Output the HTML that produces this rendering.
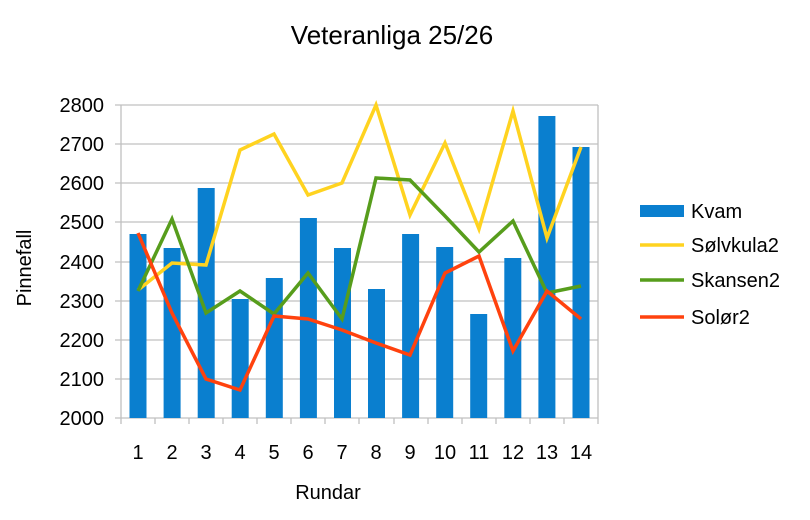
<!DOCTYPE html><html><head><style>body{margin:0;background:#fff}</style></head><body>
<svg width="810" height="515" xmlns="http://www.w3.org/2000/svg" font-family="Liberation Sans, Arial, sans-serif">
<rect width="810" height="515" fill="#fff"/>
<text x="392" y="44" font-size="26" text-anchor="middle" fill="#000">Veteranliga 25/26</text>
<g stroke="#c0c0c0" stroke-width="1.3">
<line x1="115" y1="105" x2="598" y2="105"/><line x1="115" y1="144" x2="598" y2="144"/><line x1="115" y1="183" x2="598" y2="183"/><line x1="115" y1="222" x2="598" y2="222"/><line x1="115" y1="262" x2="598" y2="262"/><line x1="115" y1="301" x2="598" y2="301"/><line x1="115" y1="340" x2="598" y2="340"/><line x1="115" y1="379" x2="598" y2="379"/><line x1="115" y1="418" x2="598" y2="418"/>
<line x1="121" y1="105" x2="121" y2="424"/><line x1="598" y1="105" x2="598" y2="424"/>
<line x1="155" y1="418" x2="155" y2="424"/><line x1="189" y1="418" x2="189" y2="424"/><line x1="223" y1="418" x2="223" y2="424"/><line x1="257" y1="418" x2="257" y2="424"/><line x1="291" y1="418" x2="291" y2="424"/><line x1="325" y1="418" x2="325" y2="424"/><line x1="359" y1="418" x2="359" y2="424"/><line x1="394" y1="418" x2="394" y2="424"/><line x1="428" y1="418" x2="428" y2="424"/><line x1="462" y1="418" x2="462" y2="424"/><line x1="496" y1="418" x2="496" y2="424"/><line x1="530" y1="418" x2="530" y2="424"/><line x1="564" y1="418" x2="564" y2="424"/>
</g>
<g fill="#0a7fcf">
<rect x="129.5" y="234" width="17" height="184"/><rect x="163.6" y="248" width="17" height="170"/><rect x="197.7" y="188" width="17" height="230"/><rect x="231.7" y="299" width="17" height="119"/><rect x="265.8" y="278" width="17" height="140"/><rect x="299.9" y="218" width="17" height="200"/><rect x="334" y="248" width="17" height="170"/><rect x="368" y="289" width="17" height="129"/><rect x="402.1" y="234" width="17" height="184"/><rect x="436.2" y="247" width="17" height="171"/><rect x="470.2" y="314" width="17" height="104"/><rect x="504.3" y="258" width="17" height="160"/><rect x="538.4" y="116" width="17" height="302"/><rect x="572.5" y="147" width="17" height="271"/>
</g>
<g fill="none" stroke-width="3.5" stroke-linejoin="miter">
<polyline stroke="#ffd320" points="138,290 172,263 206,265 240,150 274,134 308,195 342,183 376,105 410,215 445,143 479,229 513,111 547,238 581,147"/>
<polyline stroke="#579d1c" points="138,291 172,219 206,313 240,291 274,314 308,273 342,319 376,178 410,180 445,216 479,252 513,221 547,293 581,286"/>
<polyline stroke="#ff420e" points="138,233 172,313 206,379 240,390 274,316 308,319 342,330 376,343 410,355 445,273 479,256 513,351 547,291 581,319"/>
</g>
<g font-size="20" fill="#000" text-anchor="end">
<text x="104" y="112">2800</text><text x="104" y="151">2700</text><text x="104" y="190">2600</text><text x="104" y="229">2500</text><text x="104" y="269">2400</text><text x="104" y="308">2300</text><text x="104" y="347">2200</text><text x="104" y="386">2100</text><text x="104" y="425">2000</text>
</g>
<g font-size="20" fill="#000" text-anchor="middle">
<text x="138" y="459">1</text><text x="172" y="459">2</text><text x="206" y="459">3</text><text x="240" y="459">4</text><text x="274" y="459">5</text><text x="308" y="459">6</text><text x="342" y="459">7</text><text x="376" y="459">8</text><text x="410" y="459">9</text><text x="445" y="459">10</text><text x="479" y="459">11</text><text x="513" y="459">12</text><text x="547" y="459">13</text><text x="581" y="459">14</text>
<text x="328" y="499">Rundar</text>
<text transform="translate(31,268) rotate(-90)">Pinnefall</text>
</g>
<rect x="640" y="205" width="44" height="12" fill="#0a7fcf"/>
<line x1="640" y1="245" x2="684" y2="245" stroke="#ffd320" stroke-width="3.5"/>
<line x1="640" y1="280" x2="684" y2="280" stroke="#579d1c" stroke-width="3.5"/>
<line x1="640" y1="317" x2="684" y2="317" stroke="#ff420e" stroke-width="3.5"/>
<g font-size="20" fill="#000">
<text x="691" y="218">Kvam</text><text x="691" y="252">Sølvkula2</text><text x="691" y="287">Skansen2</text><text x="691" y="324">Solør2</text>
</g>
</svg>
</body></html>
